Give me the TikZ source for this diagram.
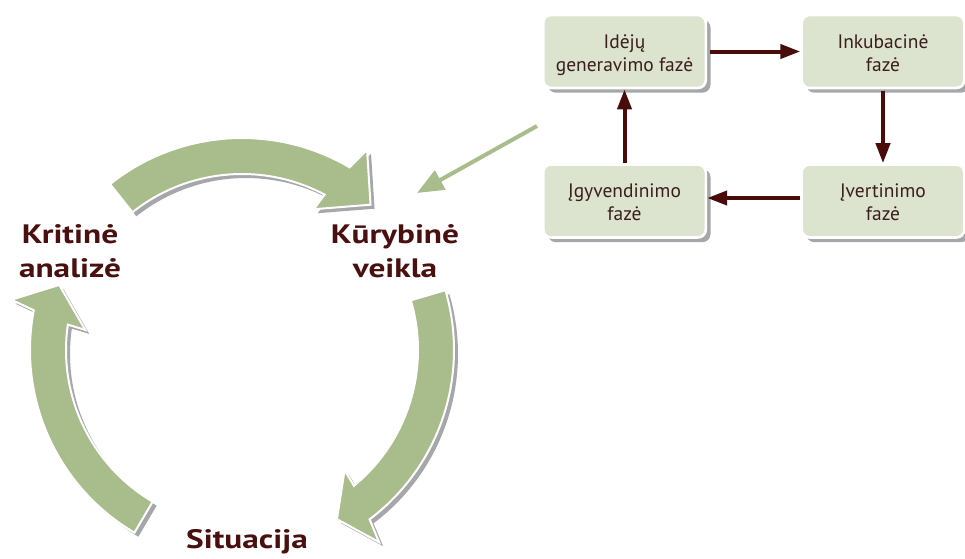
\documentclass[tikz,border=0pt]{standalone}
\usepackage{fontspec}
\setmainfont{PT Sans}
\newfontfamily\lblfont[FakeStretch=1.25]{PT Sans}
\usetikzlibrary{calc,arrows.meta,shadows}
\definecolor{ringgreen}{HTML}{A9BC8C}
\definecolor{boxfill}{HTML}{DCE3CE}
\definecolor{shadowgray}{HTML}{A5A7AA}
\definecolor{labelbrown}{HTML}{4A0F0F}
\definecolor{arrowbrown}{HTML}{4A0B0B}
\definecolor{boxtext}{HTML}{3A1E1E}
\newcommand\ringarrow[3]{%
  \path[ringshape] ($(ctr)+(#1:212)$) arc[start angle=#1, end angle=#2-1, radius=212]
    -- ($(ctr)+(#2-2.5:236)$) -- ($(ctr)+(#3:194)$) -- ($(ctr)+(#2+2.5:158)$)
    -- ($(ctr)+(#2+1.5:176)$) arc[start angle=#2+1.5, end angle=#1, radius=176] -- cycle;}
\tikzset{
  ringshape/.style={fill=ringgreen, draw=white, line width=1.5pt, line join=miter,
    general shadow={fill=shadowgray, draw=none, shadow xshift=3pt, shadow yshift=-3pt}},
  lbl/.style={font=\lblfont\bfseries\fontsize{20}{25.5}\selectfont, text=labelbrown, align=center,
    inner sep=0pt, text height=40.5pt, text depth=0pt},
  phase/.style={rounded corners=6pt, fill=boxfill, draw=white, line width=2pt,
    minimum width=122pt, minimum height=54.75pt, align=center, inner sep=0pt,
    font=\fontsize{14.6}{17.25}\selectfont, text=boxtext, text height=30.75pt, text depth=1.5pt,
    general shadow={fill=shadowgray, draw=none, shadow xshift=3.5pt, shadow yshift=-3.5pt}},
  link/.style={draw=arrowbrown, line width=3pt, -{Triangle[length=15pt,width=10.5pt]}},
  greenlink/.style={draw=ringgreen, line width=3pt, -{Triangle[length=20pt,width=16pt]}}
}
\begin{document}
\begin{tikzpicture}[x=0.75pt,y=0.75pt]
\useasboundingbox (0,0) rectangle (965,-558);
\coordinate (ctr) at (242,-350);
\ringarrow{128.5}{60.5}{48.5}
\ringarrow{16.4}{-52}{-60.7}
\ringarrow{239.5}{170.2}{160.4}
\node[lbl] (krit) at (70,-250) {Kritinė\\analizė};
\node[lbl] (kur) at (395,-250) {Kūrybinė\\veikla};
\node[lbl, anchor=base, text height=15pt] (sit) at (247,-548) {Situacija};
\node[phase] (idej) at (624.5,-51.5) {Idėjų\\generavimo fazė};
\node[phase] (inku) at (883,-51.5) {Inkubacinė\\fazė};
\node[phase] (igyv) at (624.5,-201) {Įgyvendinimo\\fazė};
\node[phase] (iver) at (883,-201) {Įvertinimo\\fazė};
\draw[link, shorten <=2pt] (idej.east) -- (inku.west);
\draw[link, shorten <=1pt] (inku.south) -- (iver.north);
\draw[link] ([yshift=2.25pt]iver.west) -- ([yshift=2.25pt]igyv.east);
\draw[link] (igyv.north) -- (idej.south);
\coordinate (gstart) at (537,-126);
\coordinate (gend) at (417,-193);
\draw[greenlink] (gstart) -- (gend);
\end{tikzpicture}
\end{document}
